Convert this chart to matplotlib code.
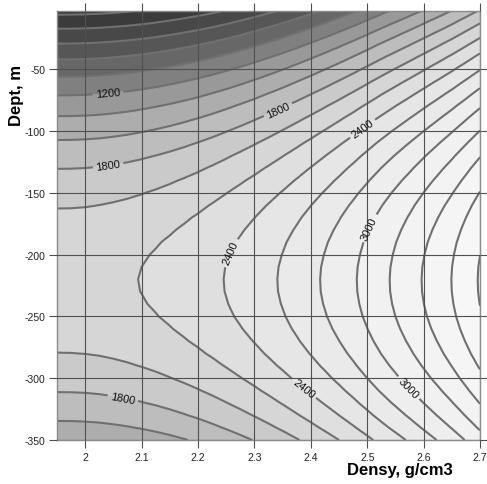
import numpy as np
import matplotlib
matplotlib.use('Agg')
from matplotlib import pyplot as plt
from matplotlib.ticker import FormatStrFormatter

plt.rcParams['font.family'] = ['Liberation Sans', 'DejaVu Sans']
plt.rcParams['axes.unicode_minus'] = False

# density nodes (g/cm3) and the field value along the ridge at -220 m
density = np.linspace(1.95, 2.70, 31)
ridge_value = np.array([2143, 2144, 2148, 2156, 2169, 2185, 2205, 2229, 2257, 2289,
                        2324, 2364, 2408, 2456, 2507, 2563, 2622, 2686, 2753, 2824,
                        2899, 2978, 3062, 3149, 3235, 3322, 3413, 3506, 3603, 3708,
                        3818])

# depth nodes (m) and how far the value drops below the ridge at each depth
depth = np.linspace(0, -350, 36)
depth_drop = np.array([2051, 1870, 1697, 1532, 1376, 1228, 1089, 958, 835, 721,
                       615, 517, 428, 348, 276, 212, 156, 109, 71, 40,
                       19, 5, 0, 3, 15, 35, 64, 101, 146, 200,
                       262, 333, 412, 499, 595, 699])

band_levels = np.arange(0, 4001, 200)
label_levels = [1200, 1800, 2400, 3000]
plain_levels = [v for v in range(200, 4000, 200) if v not in label_levels]
label_spots = [(2.04, -68), (2.04, -126), (2.34, -81), (2.49, -97),
               (2.255, -198), (2.51, -180), (2.066, -318), (2.39, -307),
               (2.58, -305)]

x_ticks = [2.0, 2.1, 2.2, 2.3, 2.4, 2.5, 2.6, 2.7]
y_ticks = [-50, -100, -150, -200, -250, -300, -350]

band_colors = ['#333333', '#3b3b3b', '#484848', '#565656', '#676767', '#808080',
               '#999999', '#adadad', '#bdbdbd', '#cacaca', '#d6d6d6', '#dfdfdf',
               '#e6e6e6', '#eaeaea', '#eeeeee', '#f1f1f1', '#f3f3f3', '#f5f5f5',
               '#f7f7f7', '#f9f9f9']

X, Y = np.meshgrid(density, depth)
Z = ridge_value[np.newaxis, :] - depth_drop[:, np.newaxis]

fig = plt.figure(figsize=(4.87, 4.85), dpi=100)
ax = fig.add_axes([57 / 487, 1 - 441 / 485, 423 / 487, 429 / 485])

ax.contourf(X, Y, Z, levels=band_levels, colors=band_colors)
ax.contour(X, Y, Z, levels=plain_levels, colors='#707070', linewidths=1.5)
cs = ax.contour(X, Y, Z, levels=label_levels, colors='#707070', linewidths=1.5)
ax.clabel(cs, manual=label_spots, fmt='%d', fontsize=8,
          colors='#111111', inline=True, inline_spacing=3)

ax.set_xlim(1.95, 2.7)
ax.set_ylim(-350, -3)
ax.set_xticks(x_ticks)
ax.set_yticks(y_ticks)
ax.xaxis.set_major_formatter(FormatStrFormatter('%g'))
ax.grid(True, color='#505050', linewidth=0.8)
ax.set_axisbelow(False)
ax.tick_params(axis='both', which='major', direction='out', length=6, width=0.8,
               color='#505050', labelsize=7.5, labelcolor='#222222', pad=2.5,
               top=True, right=True)
for spine in ax.spines.values():
    spine.set_color('#8a8a8a')
    spine.set_linewidth(1)

fig.text(17 / 487, 1 - 96 / 485, 'Dept, m', rotation=90, ha='center', va='center',
         fontsize=12, fontweight='bold')
fig.text(453 / 487, 1 - 471 / 485, 'Densy, g/cm3', ha='right', va='center',
         fontsize=12, fontweight='bold')

fig.savefig('out.png', dpi=100)
